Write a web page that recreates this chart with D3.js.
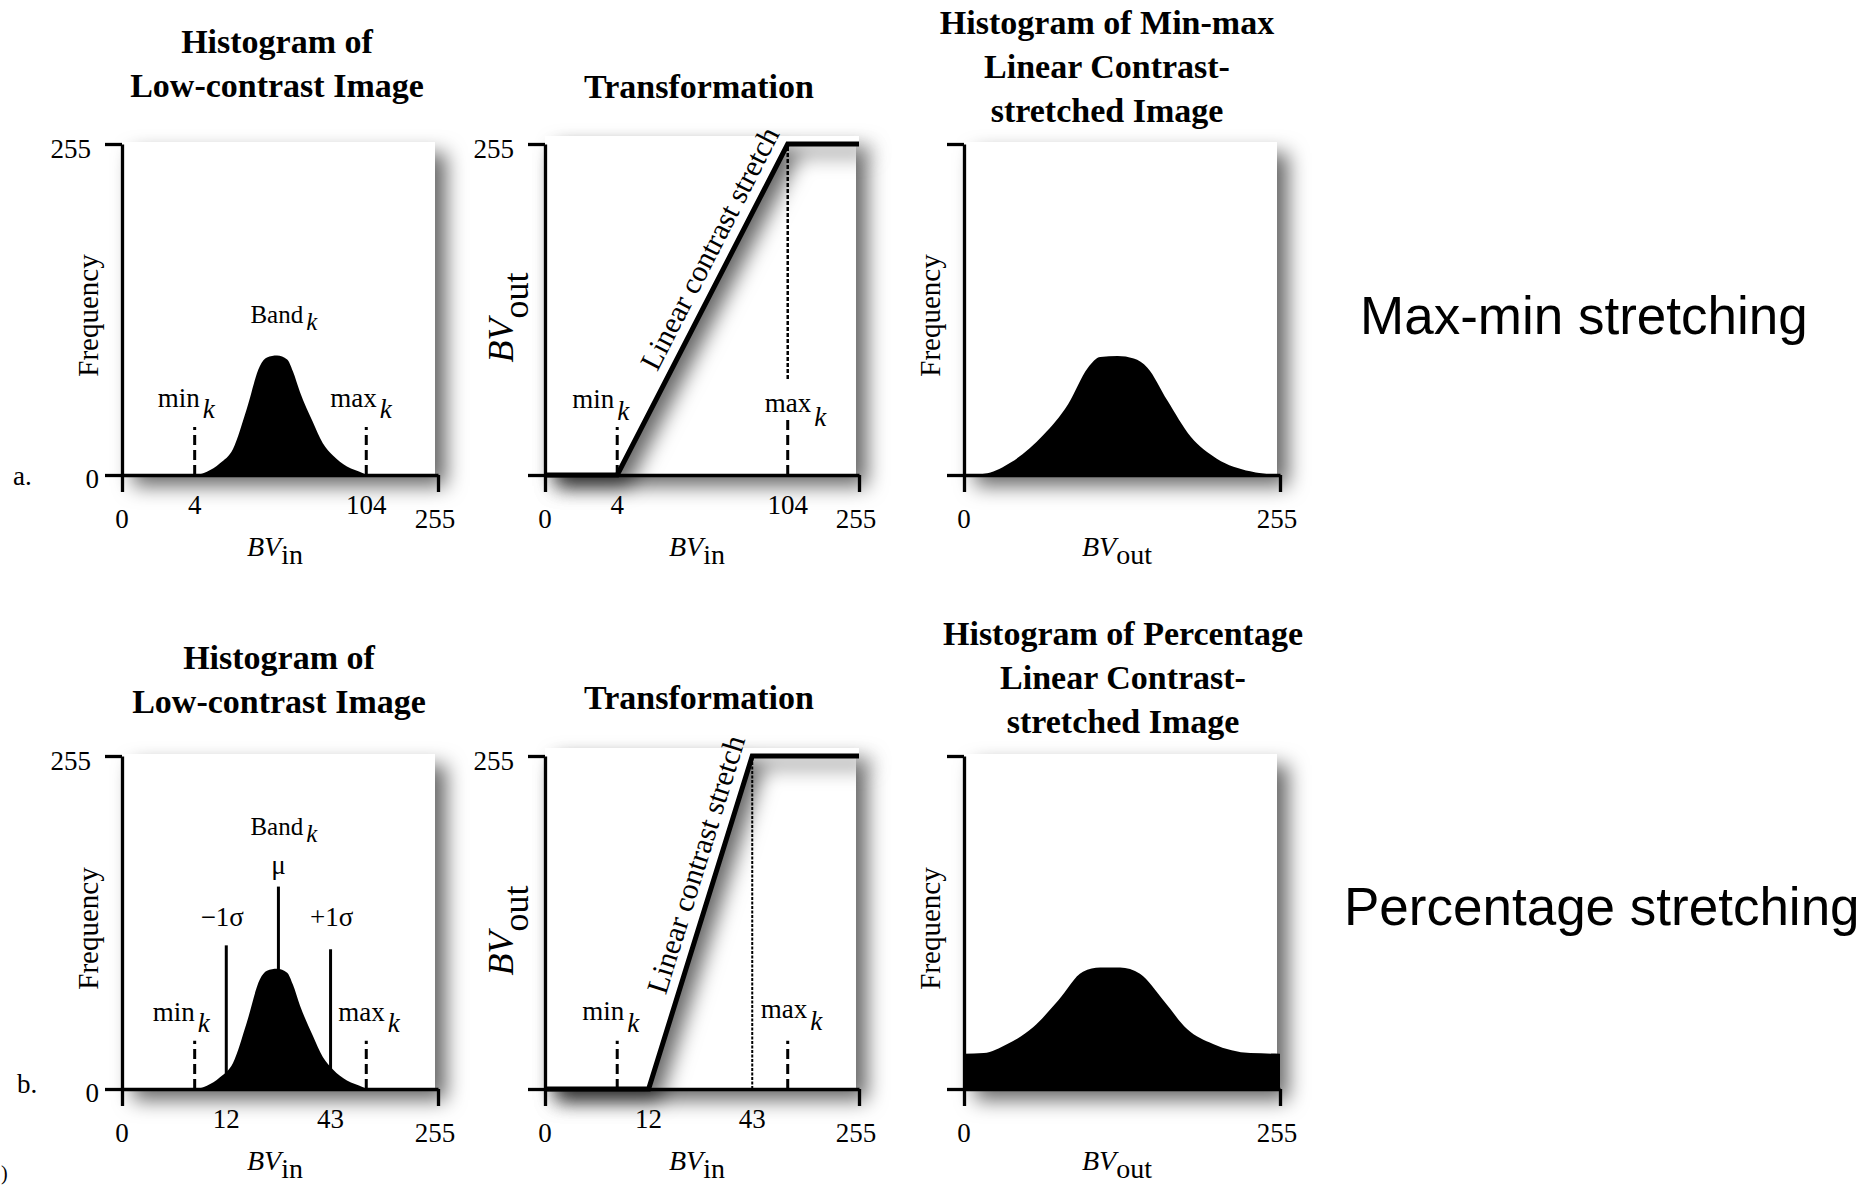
<!DOCTYPE html>
<html>
<head>
<meta charset="utf-8">
<script src="https://cdn.jsdelivr.net/npm/d3@7"></script>
<style>
  body { margin: 0; background: #fff; }
  svg { display: block; font-family: 'Liberation Serif', 'Times New Roman', serif; }
</style>
</head>
<body>
<script>
// brightness values used on the schematic BV axis (not drawn to scale in the figure)
const bvBreaks = [0, 4, 12, 43, 104, 255]
const ticksMinMax = [0, 4, 104, 255]
const ticksPct = [0, 12, 43, 255]
const ticksOut = [0, 255]
const minK = 4, maxK = 104
const meanK = 27.5, sigmaLo = 12, sigmaHi = 43

// histogram of the low-contrast image (BV, frequency)
const lowBV = [4.6, 7.1, 10.4, 14, 18.1, 22, 24.1, 27.1, 30.1, 31.8, 33.9, 37.7, 40.7, 47.1, 71, 98.4, 103.5]
const lowFreq = [0, 2.5, 9, 20, 51, 84, 90.5, 92, 89, 80, 64, 41, 24.5, 15, 6.5, 1.3, 0]

// histogram after min-max stretch
const minmaxBV = [3, 19, 38, 64, 84, 100, 110, 124, 137, 148, 164, 183, 204, 231, 253]
const minmaxFreq = [0, 1.4, 9.8, 30.8, 54.6, 82.7, 91, 91.6, 89.7, 82.7, 57.5, 29.4, 12.6, 2.8, 0]

// histogram after percentage stretch (saturated tails pile up at both ends)
const pctBV = [0, 16, 35, 56, 76, 96, 110, 126, 142, 161, 180, 201, 231, 255]
const pctFreq = [27, 27.5, 34.4, 47.4, 67.8, 89.8, 93, 93, 88.2, 67.8, 45.9, 34.4, 27.5, 27]

// transformation functions BVin -> BVout
const minmaxIn = [0, 4, 104, 255]
const minmaxOut = [0, 0, 255, 255]
const pctIn = [0, 12, 43, 255]
const pctOut = [0, 0, 255, 255]

const W = 1865, H = 1186
const colX = [122, 545, 964]
const colW = [316, 314, 316]
const rowTop = [144, 756]
const rowAxis = [475, 1089]
const breakFrac = [0, 0.23, 0.33, 0.66, 0.773, 1]

const svg = d3.select('body').append('svg').attr('width', W).attr('height', H)
svg.append('rect').attr('width', W).attr('height', H).attr('fill', '#fff')

const defs = svg.append('defs')
defs.append('filter').attr('id', 'shadow')
    .attr('x', '-10%').attr('y', '-10%').attr('width', '150%').attr('height', '150%')
    .append('feDropShadow')
    .attr('dx', 11).attr('dy', 11).attr('stdDeviation', 10)
    .attr('flood-color', '#000').attr('flood-opacity', 0.6)

function scales(col, row) {
    const x0 = colX[col], w = colW[col]
    const x = col < 2
        ? d3.scaleLinear().domain(bvBreaks).range(breakFrac.map(f => x0 + f * w))
        : d3.scaleLinear().domain([0, 255]).range([x0, x0 + w])
    const y = d3.scaleLinear().domain([0, 255]).range([rowAxis[row], rowTop[row]])
    return { x, y, x0, w, cy: (rowAxis[row] + rowTop[row]) / 2 }
}

function frame(g, s) {
    // white plot area casting the grey shadow
    g.append('rect')
        .attr('x', s.x0).attr('y', s.y(255) - 2)
        .attr('width', s.w - 3).attr('height', s.y(0) - s.y(255) + 2)
        .attr('fill', '#fff')
        .attr('filter', 'url(#shadow)')
}

function axes(g, s) {
    const yAxis = d3.axisLeft(s.y).tickValues([0, 255]).tickSize(17).tickSizeOuter(0).tickFormat('')
    const xAxis = d3.axisBottom(s.x).tickValues([0, 255]).tickSize(17).tickSizeOuter(0).tickFormat('')
    g.append('g').attr('transform', `translate(${s.x0},0)`).call(yAxis)
    g.append('g').attr('transform', `translate(0,${s.y(0)})`).call(xAxis)
    g.selectAll('.domain, .tick line').attr('stroke', '#000').attr('stroke-width', 3.3)
}

function xLabels(g, s, vals, title, sub) {
    g.selectAll(null).data(vals).join('text')
        .attr('x', d => s.x(d) - (d === 255 ? 3 : 0))
        .attr('y', d => s.y(0) + (d === 0 || d === 255 ? 53 : 39))
        .attr('text-anchor', 'middle')
        .attr('font-size', 27)
        .text(d => d)
    const t = g.append('text')
        .attr('x', s.x0 + s.w / 2 - 5).attr('y', s.y(0) + 81)
        .attr('text-anchor', 'middle').attr('font-size', 28)
    t.append('tspan').attr('font-style', 'italic').text(title)
    t.append('tspan').attr('dy', 8).text(sub)
}

function yLabels(g, s, zero) {
    g.append('text').attr('x', s.x0 - 31).attr('y', s.y(255) + 14)
        .attr('text-anchor', 'end').attr('font-size', 27).text('255')
    if (zero) {
        g.append('text').attr('x', s.x0 - 23).attr('y', s.y(0) + 13)
            .attr('text-anchor', 'end').attr('font-size', 27).text('0')
    }
}

function freqLabel(g, s) {
    g.append('text')
        .attr('transform', `translate(${s.x0 - 24},${s.cy + 6}) rotate(-90)`)
        .attr('text-anchor', 'middle').attr('font-size', 29)
        .text('Frequency')
}

function bvOutLabel(g, s) {
    const t = g.append('text')
        .attr('transform', `translate(${s.x0 - 32},${s.cy + 8}) rotate(-90)`)
        .attr('text-anchor', 'middle').attr('font-size', 36)
    t.append('tspan').attr('font-style', 'italic').text('BV')
    t.append('tspan').attr('dy', 15).text('out')
}

function title(g, x, y, lines) {
    g.selectAll(null).data(lines).join('text')
        .attr('x', x).attr('y', (d, i) => y + i * 44)
        .attr('text-anchor', 'middle')
        .attr('font-size', 34).attr('font-weight', 'bold')
        .text(d => d)
}

function vline(g, s, v, top, dash, width) {
    g.append('line')
        .attr('x1', s.x(v)).attr('x2', s.x(v))
        .attr('y1', s.y(0)).attr('y2', s.y(top))
        .attr('stroke', '#000').attr('stroke-width', width || 3)
        .attr('stroke-dasharray', dash)
}

function kLabel(g, x, y, main, size, dy) {
    const t = g.append('text').attr('x', x).attr('y', y).attr('font-size', size)
    t.append('tspan').text(main)
    t.append('tspan').attr('dx', 3).attr('dy', dy).attr('font-style', 'italic').text('k')
    return t
}

function histogram(g, s, bv, freq) {
    const area = d3.area()
        .x(d => s.x(d[0]))
        .y0(s.y(0))
        .y1(d => s.y(d[1]))
        .curve(d3.curveMonotoneX)
    g.append('path').datum(d3.zip(bv, freq)).attr('d', area).attr('fill', '#000')
}

function transformLine(g, s, tin, tout) {
    const pts = d3.zip(tin, tout)
    // white layer above the function, its shadow shades the area under the stretch
    const shade = d3.area().x(d => s.x(d[0])).y0(s.y(255) - 8).y1(d => s.y(d[1]))
    g.append('path').datum(pts).attr('d', shade)
        .attr('fill', '#fff').attr('filter', 'url(#shadow)')
    g.append('path').datum(pts)
        .attr('d', d3.line().x(d => s.x(d[0])).y(d => s.y(d[1])))
        .attr('fill', 'none').attr('stroke', '#000').attr('stroke-width', 5)

    // label along the sloped part
    const ax = s.x(tin[1]), ay = s.y(tout[1]), bx = s.x(tin[2]), by = s.y(tout[2])
    const dx = bx - ax, dy = by - ay, len = Math.hypot(dx, dy)
    const t = 0.655, off = 22
    const px = ax + t * dx + off * dy / len
    const py = ay + t * dy - off * dx / len
    const ang = Math.atan2(dy, dx) * 180 / Math.PI
    g.append('text')
        .attr('transform', `translate(${px},${py}) rotate(${ang})`)
        .attr('text-anchor', 'middle').attr('dy', '0.35em')
        .attr('font-size', 30)
        .text('Linear contrast stretch')
}

// ---------- row a: min-max stretching ----------
const ga = svg.append('g')

let s = scales(0, 0)
frame(ga, s)
histogram(ga, s, lowBV, lowFreq)
vline(ga, s, minK, 37, '10,5')
vline(ga, s, maxK, 37, '10,5')
axes(ga, s)
kLabel(ga, s.x(minK) - 37, s.y(52.5), 'min', 27, 11)
kLabel(ga, s.x(maxK) - 36, s.y(52.5), 'max', 27, 11)
kLabel(ga, s.x(meanK) - 28, s.y(117), 'Band', 25, 7)
xLabels(ga, s, ticksMinMax, 'BV', 'in')
yLabels(ga, s, true)
freqLabel(ga, s)
title(ga, 277, 53, ['Histogram of', 'Low-contrast Image'])
ga.append('text').attr('x', 13).attr('y', 485).attr('font-size', 27).text('a.')

s = scales(1, 0)
frame(ga, s)
transformLine(ga, s, minmaxIn, minmaxOut)
vline(ga, s, minK, 37, '10,5')
vline(ga, s, maxK, 43, '10,5')
ga.append('line')
    .attr('x1', s.x(maxK)).attr('x2', s.x(maxK))
    .attr('y1', s.y(74)).attr('y2', s.y(255))
    .attr('stroke', '#000').attr('stroke-width', 2.5).attr('stroke-dasharray', '4,2')
axes(ga, s)
kLabel(ga, s.x(minK) - 45, s.y(52), 'min', 27, 12)
kLabel(ga, s.x(maxK) - 23, s.y(48.5), 'max', 27, 14)
xLabels(ga, s, ticksMinMax, 'BV', 'in')
yLabels(ga, s, false)
bvOutLabel(ga, s)
title(ga, 699, 98, ['Transformation'])

s = scales(2, 0)
frame(ga, s)
histogram(ga, s, minmaxBV, minmaxFreq)
axes(ga, s)
xLabels(ga, s, ticksOut, 'BV', 'out')
freqLabel(ga, s)
title(ga, 1107, 34, ['Histogram of Min-max', 'Linear Contrast-', 'stretched Image'])

ga.append('text').attr('x', 1360).attr('y', 334)
    .attr('font-family', "'Liberation Sans', Arial, sans-serif").attr('font-size', 53)
    .text('Max-min stretching')

// ---------- row b: percentage stretching ----------
const gb = svg.append('g')

s = scales(0, 1)
frame(gb, s)
histogram(gb, s, lowBV, lowFreq)
vline(gb, s, minK, 37, '10,5')
vline(gb, s, maxK, 37, '10,5')
vline(gb, s, sigmaLo, 110, null, 3)
vline(gb, s, meanK, 155, null, 3)
vline(gb, s, sigmaHi, 107, null, 3)
axes(gb, s)
kLabel(gb, s.x(minK) - 42, s.y(52), 'min', 27, 11)
kLabel(gb, s.x(maxK) - 28, s.y(52), 'max', 27, 11)
kLabel(gb, s.x(meanK) - 28, s.y(194.5), 'Band', 25, 7)
gb.append('text').attr('x', s.x(meanK)).attr('y', s.y(165))
    .attr('text-anchor', 'middle').attr('font-size', 27).text('μ')
gb.append('text').attr('x', s.x(sigmaLo) - 4).attr('y', s.y(124.6))
    .attr('text-anchor', 'middle').attr('font-size', 27).text('−1σ')
gb.append('text').attr('x', s.x(sigmaHi) + 1).attr('y', s.y(124.6))
    .attr('text-anchor', 'middle').attr('font-size', 27).text('+1σ')
xLabels(gb, s, ticksPct, 'BV', 'in')
yLabels(gb, s, true)
freqLabel(gb, s)
title(gb, 279, 669, ['Histogram of', 'Low-contrast Image'])
gb.append('text').attr('x', 17).attr('y', 1093).attr('font-size', 27).text('b.')
gb.append('text').attr('x', 1).attr('y', 1180).attr('font-size', 20).text(')')

s = scales(1, 1)
frame(gb, s)
transformLine(gb, s, pctIn, pctOut)
vline(gb, s, minK, 37, '10,5')
vline(gb, s, maxK, 37, '10,5')
vline(gb, s, sigmaHi, 255, '3,1.5', 2)
axes(gb, s)
kLabel(gb, s.x(minK) - 35, s.y(53), 'min', 27, 12)
kLabel(gb, s.x(maxK) - 27, s.y(54), 'max', 27, 12)
xLabels(gb, s, ticksPct, 'BV', 'in')
yLabels(gb, s, false)
bvOutLabel(gb, s)
title(gb, 699, 709, ['Transformation'])

s = scales(2, 1)
frame(gb, s)
histogram(gb, s, pctBV, pctFreq)
axes(gb, s)
xLabels(gb, s, ticksOut, 'BV', 'out')
freqLabel(gb, s)
title(gb, 1123, 645, ['Histogram of Percentage', 'Linear Contrast-', 'stretched Image'])

gb.append('text').attr('x', 1344).attr('y', 925)
    .attr('font-family', "'Liberation Sans', Arial, sans-serif").attr('font-size', 53)
    .text('Percentage stretching')
</script>
</body>
</html>
